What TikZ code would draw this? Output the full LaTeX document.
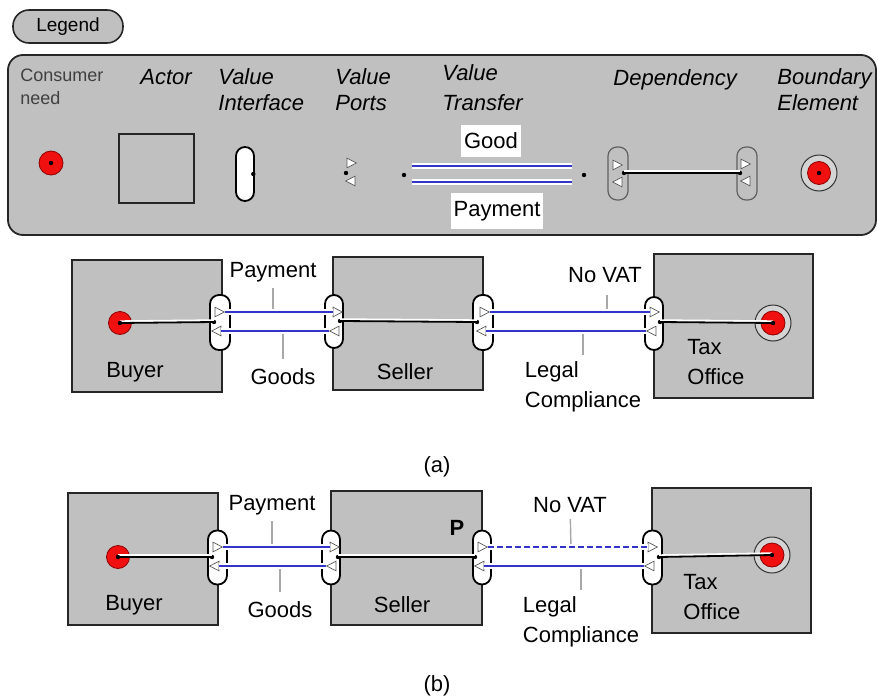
\documentclass[tikz,border=0pt]{standalone}
\usepackage{fontspec}
\setmainfont{Liberation Sans}
\usepackage{xcolor}
\usepackage{tikz}
\usetikzlibrary{shapes.geometric}
\definecolor{actgray}{HTML}{C0C0C0}
\definecolor{ringgray}{HTML}{D4D4D4}
\definecolor{needred}{HTML}{F01010}
\definecolor{transblue}{HTML}{3434C8}
\definecolor{leadgray}{HTML}{A8A8A8}

\begin{document}
\begin{tikzpicture}[x=0.5pt,y=-0.5pt,
    lbl/.style={inner sep=0pt,font=\fontsize{11}{15}\selectfont},
    ital/.style={lbl,font=\fontsize{11}{13}\selectfont\itshape,align=left,anchor=west},
    actor/.style={draw=black!85,fill=actgray,line width=1pt,inner sep=0pt},
    iface/.style={draw=black,fill=white,rounded corners=4.5pt,minimum width=9.5pt,minimum height=27pt,inner sep=0pt,line width=0.9pt},
    depiface/.style={iface,draw=gray!75!black,fill=actgray,line width=0.6pt},
    portr/.style={isosceles triangle,isosceles triangle stretches,minimum width=4.8pt,minimum height=4.6pt,inner sep=0pt,draw=black!65,fill=white,line width=0.35pt},
    portl/.style={portr,shape border rotate=180},
    idot/.style={circle,fill=black,inner sep=0pt,minimum size=2.2pt},
    need/.style={circle,draw=red!55!black,fill=needred,line width=0.4pt,minimum size=11.5pt,inner sep=0pt},
    bndel/.style={circle,draw=black!80,fill=ringgray,line width=0.5pt,minimum size=18pt,inner sep=0pt},
    transfer/.style={draw=transblue,line width=1.2pt,preaction={draw=white,line width=2.6pt,solid}},
    depline/.style={draw=black,line width=0.9pt,preaction={draw=white,line width=1.1pt,transform canvas={yshift=0.8pt}}},
    leader/.style={draw=leadgray,line width=0.7pt}]
  \useasboundingbox (0,0) rectangle (878,696);

  % legend
  \node[draw=black!85,fill=actgray,line width=0.8pt,rounded corners=8pt,minimum width=55pt,minimum height=16.5pt,inner sep=0pt,font=\fontsize{9.5}{11}\selectfont] (legend) at (68,26.5) {Legend};
  \draw[fill=actgray,draw=black!85,line width=0.9pt,rounded corners=7.5pt] (8,55) rectangle (876,235);

  \node[lbl,anchor=west,align=left,text=black!75,font=\fontsize{9}{11.5}\selectfont] (lgneedtxt) at (20,87) {Consumer\\need};
  \node[ital] (lgactortxt) at (140,77) {Actor};
  \node[ital] (lgifacetxt) at (218,90) {Value\\Interface};
  \node[ital] (lgportstxt) at (335,90) {Value\\Ports};
  \node[ital,font=\fontsize{11}{15}\selectfont\itshape] (lgtransfertxt) at (442,88) {Value\\Transfer};
  \node[ital] (lgdeptxt) at (613,80) {Dependency};
  \node[ital] (lgbndtxt) at (777,90) {Boundary\\Element};

  \node[need,minimum size=12pt] (lgneed) at (51,163) {};
  \node[idot] (lgneeddot) at (lgneed) {};
  \node[actor,minimum width=37.5pt,minimum height=34.5pt] (lgactor) at (156.5,168.5) {};
  \node[iface,minimum width=9pt] (lgiface) at (245,174) {};
  \node[idot] (lgifacedot) at ([xshift=-0.8pt]lgiface.east) {};
  \node[idot] (lgportdot) at (346,173) {};
  \node[portr] (lgportin) at (350,163) {};
  \node[portl] (lgportout) at (352,181) {};

  \node[idot] (lgtrleft) at (404,175) {};
  \node[idot] (lgtrright) at (584,175) {};
  \coordinate (lgtr1a) at (412,166);
  \coordinate (lgtr1b) at (572,166);
  \coordinate (lgtr2a) at (412,182);
  \coordinate (lgtr2b) at (572,182);
  \draw[transfer] (lgtr1a) -- (lgtr1b);
  \draw[transfer] (lgtr2a) -- (lgtr2b);
  \node[lbl,fill=white,inner xsep=1.5pt,inner ysep=4pt] (lggood) at (491,141) {Good};
  \node[lbl,fill=white,inner xsep=1.5pt,inner ysep=4pt] (lgpay) at (497,211) {Payment};

  \node[depiface,minimum width=10pt,minimum height=26.5pt] (lgdepl) at (618,173.5) {};
  \node[depiface,minimum width=10pt,minimum height=26.5pt] (lgdepr) at (747,173.5) {};
  \node[portr] (lgdepl1) at (616,165) {};
  \node[portl] (lgdepl2) at (619,182) {};
  \node[portr] (lgdepr1) at (744,164) {};
  \node[portl] (lgdepr2) at (747,181) {};
  \node[idot] (lgdepldot) at (624,173) {};
  \node[idot] (lgdeprdot) at (740,173) {};
  \draw[depline] (lgdepldot.center) -- (lgdeprdot.center);

  \node[bndel] (lgbnd) at (819,173) {};
  \node[need] (lgbndred) at (lgbnd) {};
  \node[idot] (lgbnddot) at (lgbnd) {};

  % (a)
  \node[actor,minimum width=75pt,minimum height=66pt] (buyerA) at (147,326) {};
  \node[actor,minimum width=75pt,minimum height=66.5pt] (sellerA) at (408,323.5) {};
  \node[actor,minimum width=79.5pt,minimum height=72pt] (taxA) at (733.5,326) {};

  \node[need] (needA) at (120,323) {};
  \node[iface,minimum width=10pt,minimum height=27.5pt] (bifA) at (220,322.5) {};
  \node[iface,minimum width=9pt,minimum height=26.5pt] (slifA) at (334,321.5) {};
  \node[iface,minimum width=10pt,minimum height=27.5pt] (srifA) at (483,322.5) {};
  \node[iface,minimum width=9pt,minimum height=26.5pt] (tifA) at (654,323.5) {};
  \node[bndel] (bndA) at (773,323) {};
  \node[need,minimum size=12pt] (bndredA) at (bndA) {};

  \node[idot] (bdotA) at (214,322) {};
  \node[idot] (sldotA) at (340,321) {};
  \node[idot] (srdotA) at (477,322) {};
  \node[idot] (tdotA) at (660,322) {};
  \draw[depline] (needA.center) -- (bdotA.center);
  \draw[depline] (sldotA.center) -- (srdotA.center);
  \draw[depline] (tdotA.center) -- (bndA.center);
  \node[idot] (needdotA) at (needA) {};
  \node[idot] (bnddotA) at (bndA) {};

  \node[lbl] (payA) at (273,272) {Payment};
  \node[lbl] (goodsA) at (283,377) {Goods};
  \node[lbl] (novatA) at (605,275) {No VAT};
  \node[lbl,align=left,font=\fontsize{11}{15}\selectfont] (legalA) at (583,387) {Legal\\Compliance};
  \coordinate (payAm) at (273,312);
  \coordinate (goodsAm) at (283,331);
  \coordinate (novatAm) at (607,312);
  \coordinate (legalAm) at (583,331);
  \draw[leader,shorten <=3pt] (payA) -- (payAm);
  \draw[leader,shorten <=5pt] (goodsA) -- (goodsAm);
  \draw[leader,shorten <=6pt] (novatA.south -| novatAm) -- (novatAm);
  \draw[leader,shorten <=3pt] (legalA) -- (legalAm);

  \node[portr] (bp1A) at (218,312) {};
  \node[portl] (bp2A) at (218,331) {};
  \node[portr] (sp1A) at (336,312) {};
  \node[portl] (sp2A) at (336,331) {};
  \node[portr] (sp3A) at (483,312) {};
  \node[portl] (sp4A) at (483,331) {};
  \node[portr] (tp1A) at (653,312) {};
  \node[portl] (tp2A) at (653,331) {};
  \draw[transfer] (bp1A.east) -- (sp1A.west);
  \draw[transfer] (sp2A.west) -- (bp2A.east);
  \draw[transfer] (sp3A.east) -- (tp1A.west);
  \draw[transfer] (tp2A.west) -- (sp4A.east);

  \node[lbl] (buyertxtA) at (135,372) {Buyer};
  \node[lbl] (sellertxtA) at (405,372) {Seller};
  \node[lbl,anchor=west,align=left,font=\fontsize{11}{15}\selectfont] (taxtxtA) at (687,362) {Tax\\Office};
  \node[lbl] (capA) at (437,467) {(a)};

  % (b)
  \node[actor,minimum width=75pt,minimum height=66pt] (buyerB) at (143,559) {};
  \node[actor,minimum width=75.5pt,minimum height=67pt] (sellerB) at (406.5,558) {};
  \node[actor,minimum width=79.5pt,minimum height=72.5pt] (taxB) at (731.5,560.5) {};

  \node[need] (needB) at (118,557) {};
  \node[iface] (bifB) at (217.5,557.5) {};
  \node[iface,minimum width=9pt] (slifB) at (331,557.5) {};
  \node[iface,minimum width=9pt] (srifB) at (482,557.5) {};
  \node[iface] (tifB) at (652.5,557.5) {};
  \node[bndel] (bndB) at (772,555) {};
  \node[need,minimum size=12pt] (bndredB) at (bndB) {};

  \node[idot] (bdotB) at (212,557) {};
  \node[idot] (sldotB) at (338,557) {};
  \node[idot] (srdotB) at (475,557) {};
  \node[idot] (tdotB) at (659,557) {};
  \draw[depline] (needB.center) -- (bdotB.center);
  \draw[depline] (sldotB.center) -- (srdotB.center);
  \draw[depline] (tdotB.center) -- (bndB.center);
  \node[idot] (needdotB) at (needB) {};
  \node[idot] (bnddotB) at (bndB) {};

  \node[lbl] (payB) at (272,505) {Payment};
  \node[lbl] (goodsB) at (280,610) {Goods};
  \node[lbl] (novatB) at (570,505) {No VAT};
  \node[lbl,align=left,font=\fontsize{11}{15}\selectfont] (legalB) at (581,622) {Legal\\Compliance};
  \coordinate (payBm) at (272,547);
  \coordinate (goodsBm) at (280,566);
  \coordinate (novatBm) at (571,547);
  \coordinate (legalBm) at (581,566);
  \draw[leader,shorten <=3pt] (payB) -- (payBm);
  \draw[leader,shorten <=5pt] (goodsB) -- (goodsBm);
  \draw[leader,shorten <=3pt] (novatB) -- (novatBm);
  \draw[leader,shorten <=3pt] (legalB) -- (legalBm);

  \node[portr] (bp1B) at (216,547) {};
  \node[portl] (bp2B) at (216,566) {};
  \node[portr] (sp1B) at (333,547) {};
  \node[portl] (sp2B) at (333,566) {};
  \node[portr] (sp3B) at (481,547) {};
  \node[portl] (sp4B) at (481,566) {};
  \node[portr] (tp1B) at (651,547) {};
  \node[portl] (tp2B) at (651,566) {};
  \draw[transfer] (bp1B.east) -- (sp1B.west);
  \draw[transfer] (sp2B.west) -- (bp2B.east);
  \draw[transfer,dashed,dash pattern=on 3pt off 1.5pt] (sp3B.east) -- (tp1B.west);
  \draw[transfer] (tp2B.west) -- (sp4B.east);

  \node[lbl,font=\fontsize{11}{13}\selectfont\bfseries] (pmark) at (457,528) {P};
  \node[lbl] (buyertxtB) at (134,605) {Buyer};
  \node[lbl] (sellertxtB) at (402,605) {Seller};
  \node[lbl,anchor=west,align=left,font=\fontsize{11}{15}\selectfont] (taxtxtB) at (683,597) {Tax\\Office};
  \node[lbl] (capB) at (437,686) {(b)};
\end{tikzpicture}
\end{document}
